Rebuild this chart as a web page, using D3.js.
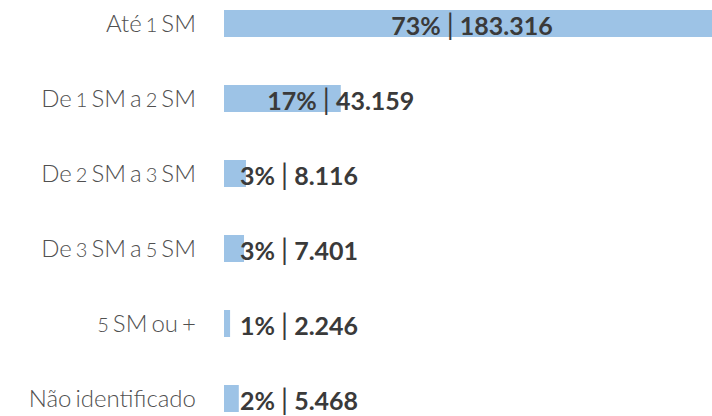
<!DOCTYPE html>
<html>
<head><meta charset="utf-8"></head>
<body style="margin:0">
<script src="https://cdn.jsdelivr.net/npm/d3@7"></script>
<script>
var categories = ['Até 1 SM', 'De 1 SM a 2 SM', 'De 2 SM a 3 SM', 'De 3 SM a 5 SM', '5 SM ou +', 'Não identificado'];
var values = [183316, 43159, 8116, 7401, 2246, 5468];
var percents = ['73%', '17%', '3%', '3%', '1%', '2%'];
var valueLabels = ['183.316', '43.159', '8.116', '7.401', '2.246', '5.468'];

var width = 712, height = 416;

var svg = d3.select('body').append('svg')
  .attr('width', width)
  .attr('height', height)
  .style('display', 'block');

var xScale = d3.scaleLinear()
  .domain([0, d3.max(values)])
  .range([224, 720]);

var yScale = d3.scaleBand()
  .domain(categories)
  .range([10, 412])
  .paddingInner(0.64)
  .paddingOuter(0);

var rows = svg.selectAll('g.row')
  .data(categories)
  .join('g')
  .attr('class', 'row');

rows.append('rect')
  .attr('x', xScale(0))
  .attr('y', d => yScale(d))
  .attr('width', (d, i) => xScale(values[i]) - xScale(0))
  .attr('height', yScale.bandwidth())
  .attr('fill', '#9dc3e6');

// category labels: narrow spaces and small digits like the original font
var labels = rows.append('text')
  .attr('x', 196)
  .attr('y', d => yScale(d) + yScale.bandwidth() / 2 + 8.5)
  .attr('text-anchor', 'end')
  .attr('font-family', 'Lato')
  .attr('font-weight', 300)
  .attr('font-size', 24)
  .attr('word-spacing', -2.5)
  .attr('fill', '#505050');

labels.each(function(d) {
  var t = d3.select(this);
  d.split(/(\d)/).filter(s => s.length).forEach(function(s) {
    var sp = t.append('tspan').text(s);
    if (/\d/.test(s)) sp.attr('font-size', 20);
  });
});

var vals = rows.append('text')
  .attr('y', d => yScale(d) + yScale.bandwidth() - 2)
  .attr('text-anchor', 'middle')
  .attr('font-family', 'Lato')
  .attr('font-weight', 700)
  .attr('font-size', 25)
  .attr('fill', '#3a3a3a');

vals.append('tspan').text((d, i) => percents[i] + ' ');
vals.append('tspan').attr('font-size', 28).attr('font-weight', 400).text('|');
vals.append('tspan').text((d, i) => ' ' + valueLabels[i]);

vals.attr('x', function(d, i) {
  var w = this.getComputedTextLength();
  var x0 = xScale(0), x1 = xScale(values[i]);
  if (x1 - x0 > w) return (x0 + x1) / 2;
  return Math.max(x1, 240 + w / 2);
});
</script>
</body>
</html>
